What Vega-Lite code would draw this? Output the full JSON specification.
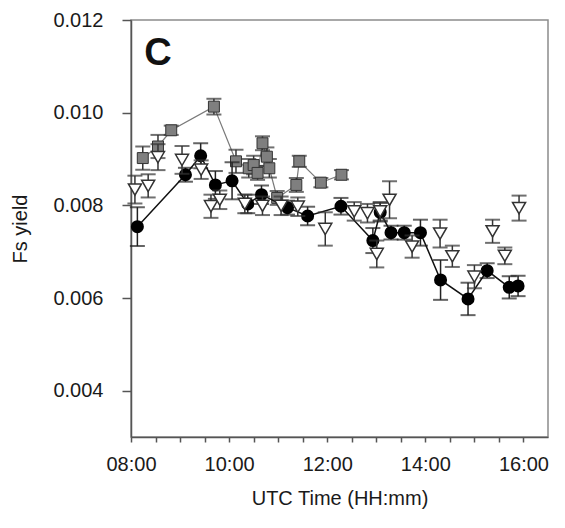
{
  "$schema": "https://vega.github.io/schema/vega-lite/v6.json",
  "autosize": {"type": "none"},
  "width": 417,
  "height": 417,
  "padding": {"left": 131, "top": 20, "right": 17, "bottom": 91},
  "background": "white",
  "config": {
    "view": {"stroke": "#8c8c8c", "strokeWidth": 1.5},
    "font": "Liberation Sans",
    "axis": {"grid": false, "labelFont": "Liberation Sans", "titleFont": "Liberation Sans", "labelColor": "#1a1a1a", "titleColor": "#1a1a1a", "domainColor": "#555", "tickColor": "#555", "domainWidth": 1.5, "tickWidth": 1.5, "labelFontSize": 20, "titleFontSize": 20, "titleFontWeight": "normal"}
  },
  "datasets": {
    "panel": [{"label": "C", "hour": 8.27, "value": 0.01103}],
    "pts": [
      {"series": "black", "hour": 8.13, "value": 0.00754, "err": 0.00042},
      {"series": "black", "hour": 9.11, "value": 0.00866, "err": 0.00015},
      {"series": "black", "hour": 9.42, "value": 0.00907, "err": 0.00027},
      {"series": "black", "hour": 9.72, "value": 0.00844, "err": 0.0003},
      {"series": "black", "hour": 10.06, "value": 0.00853, "err": 0.0004},
      {"series": "black", "hour": 10.38, "value": 0.00803, "err": 0.0002},
      {"series": "black", "hour": 10.66, "value": 0.00823, "err": 0.0002},
      {"series": "black", "hour": 11.19, "value": 0.00795, "err": 0.00015},
      {"series": "black", "hour": 11.6, "value": 0.00777, "err": 0.0002},
      {"series": "black", "hour": 12.28, "value": 0.00798, "err": 0.00018},
      {"series": "black", "hour": 12.93, "value": 0.00724, "err": 0.00027},
      {"series": "black", "hour": 13.08, "value": 0.00785, "err": 0.0002},
      {"series": "black", "hour": 13.3, "value": 0.00741, "err": 0.00015},
      {"series": "black", "hour": 13.57, "value": 0.00741, "err": 0.00015},
      {"series": "black", "hour": 13.9, "value": 0.00741, "err": 0.00028},
      {"series": "black", "hour": 14.31, "value": 0.00639, "err": 0.00043},
      {"series": "black", "hour": 14.87, "value": 0.00598, "err": 0.00035},
      {"series": "black", "hour": 15.26, "value": 0.00659, "err": 0.00016},
      {"series": "black", "hour": 15.71, "value": 0.00623, "err": 0.00024},
      {"series": "black", "hour": 15.89, "value": 0.00626, "err": 0.00022},
      {"series": "gray", "hour": 8.24, "value": 0.00902, "err": 0.00025},
      {"series": "gray", "hour": 8.55, "value": 0.00927, "err": 0.00025},
      {"series": "gray", "hour": 8.82, "value": 0.00962, "err": 0.0001},
      {"series": "gray", "hour": 9.69, "value": 0.01013, "err": 0.00017},
      {"series": "gray", "hour": 10.14, "value": 0.00895, "err": 0.00025},
      {"series": "gray", "hour": 10.4, "value": 0.0088, "err": 0.0002},
      {"series": "gray", "hour": 10.5, "value": 0.00887, "err": 0.0002},
      {"series": "gray", "hour": 10.58, "value": 0.0087, "err": 0.00015},
      {"series": "gray", "hour": 10.68, "value": 0.00934, "err": 0.00015},
      {"series": "gray", "hour": 10.77, "value": 0.00905, "err": 0.0002},
      {"series": "gray", "hour": 10.82, "value": 0.0088, "err": 0.0002},
      {"series": "gray", "hour": 10.98, "value": 0.00816, "err": 0.00015},
      {"series": "gray", "hour": 11.37, "value": 0.00844, "err": 0.00015},
      {"series": "gray", "hour": 11.43, "value": 0.00895, "err": 0.00012},
      {"series": "gray", "hour": 11.87, "value": 0.00849, "err": 0.0001},
      {"series": "gray", "hour": 12.29, "value": 0.00866, "err": 0.0001},
      {"series": "open", "hour": 8.08, "value": 0.00834, "err": 0.0003},
      {"series": "open", "hour": 8.35, "value": 0.00842, "err": 0.00025},
      {"series": "open", "hour": 8.55, "value": 0.00904, "err": 0.00028},
      {"series": "open", "hour": 9.04, "value": 0.00898, "err": 0.0003},
      {"series": "open", "hour": 9.43, "value": 0.00877, "err": 0.0002},
      {"series": "open", "hour": 9.63, "value": 0.00798, "err": 0.00025},
      {"series": "open", "hour": 9.81, "value": 0.00812, "err": 0.0002},
      {"series": "open", "hour": 10.32, "value": 0.00803, "err": 0.0002},
      {"series": "open", "hour": 10.68, "value": 0.00799, "err": 0.0002},
      {"series": "open", "hour": 11.06, "value": 0.00799, "err": 0.0002},
      {"series": "open", "hour": 11.4, "value": 0.00797, "err": 0.0002},
      {"series": "open", "hour": 11.96, "value": 0.00749, "err": 0.00036},
      {"series": "open", "hour": 12.55, "value": 0.00787, "err": 0.0002},
      {"series": "open", "hour": 12.82, "value": 0.00783, "err": 0.0002},
      {"series": "open", "hour": 13.01, "value": 0.00695, "err": 0.00029},
      {"series": "open", "hour": 13.08, "value": 0.00787, "err": 0.0002},
      {"series": "open", "hour": 13.27, "value": 0.00812, "err": 0.0004},
      {"series": "open", "hour": 13.73, "value": 0.00711, "err": 0.00024},
      {"series": "open", "hour": 14.3, "value": 0.00739, "err": 0.0003},
      {"series": "open", "hour": 14.55, "value": 0.0069, "err": 0.00023},
      {"series": "open", "hour": 15.0, "value": 0.00646, "err": 0.00025},
      {"series": "open", "hour": 15.37, "value": 0.00744, "err": 0.00025},
      {"series": "open", "hour": 15.62, "value": 0.00691, "err": 0.00018},
      {"series": "open", "hour": 15.91, "value": 0.00794, "err": 0.00027}
    ]
  },
  "data": {"name": "pts"},
  "encoding": {
    "x": {
      "field": "hour", "type": "quantitative",
      "scale": {"domain": [8, 16.5], "nice": false, "zero": false},
      "axis": {
        "title": "UTC Time (HH:mm)",
        "values": [8, 8.5, 9, 9.5, 10, 10.5, 11, 11.5, 12, 12.5, 13, 13.5, 14, 14.5, 15, 15.5, 16],
        "labelExpr": "datum.value % 2 == 0 ? (datum.value < 10 ? '0' : '') + datum.value + ':00' : ''",
        "tickSize": 5, "labelPadding": 12, "titlePadding": 14, "labelFlush": false, "labelOverlap": false
      }
    },
    "y": {
      "field": "value", "type": "quantitative",
      "scale": {"domain": [0.003, 0.012], "nice": false, "zero": false},
      "axis": {
        "title": "Fs yield",
        "values": [0.004, 0.006, 0.008, 0.01, 0.012],
        "format": ".3f",
        "tickSize": 9, "labelPadding": 19, "titlePadding": 22, "labelFlush": false
      }
    }
  },
  "layer": [
    {"data": {"name": "panel"}, "mark": {"type": "text", "align": "left", "baseline": "alphabetic", "fontSize": 38, "fontWeight": "bold", "font": "Liberation Sans", "color": "#111"}, "encoding": {"text": {"field": "label"}}},
    {"transform": [{"filter": "datum.series == 'gray'"}], "mark": {"type": "line", "color": "#7a7a7a", "strokeWidth": 1.2}},
    {"transform": [{"filter": "datum.series == 'gray'"}], "mark": {"type": "errorbar", "ticks": {"size": 15, "thickness": 2, "color": "#333"}, "rule": {"strokeWidth": 1.5, "color": "#333"}}, "encoding": {"yError": {"field": "err"}}},
    {"transform": [{"filter": "datum.series == 'gray'"}], "mark": {"type": "point", "shape": "square", "filled": true, "fill": "#7f7f7f", "stroke": "#333", "strokeWidth": 1, "size": 120, "opacity": 1}},
    {"transform": [{"filter": "datum.series == 'black'"}], "mark": {"type": "errorbar", "ticks": {"size": 15, "thickness": 2, "color": "#222"}, "rule": {"strokeWidth": 1.5, "color": "#222"}}, "encoding": {"yError": {"field": "err"}}},
    {"transform": [{"filter": "datum.series == 'black'"}], "mark": {"type": "line", "color": "#111", "strokeWidth": 1.5}},
    {"transform": [{"filter": "datum.series == 'black'"}], "mark": {"type": "circle", "color": "#000", "size": 170, "opacity": 1}},
    {"transform": [{"filter": "datum.series == 'open'"}], "mark": {"type": "errorbar", "ticks": {"size": 15, "thickness": 2, "color": "#333"}, "rule": {"strokeWidth": 1.5, "color": "#333"}}, "encoding": {"yError": {"field": "err"}}},
    {"transform": [{"filter": "datum.series == 'open'"}], "mark": {"type": "point", "shape": "triangle-down", "filled": true, "fill": "white", "stroke": "#333", "strokeWidth": 1.5, "size": 170, "opacity": 1}}
  ]
}
